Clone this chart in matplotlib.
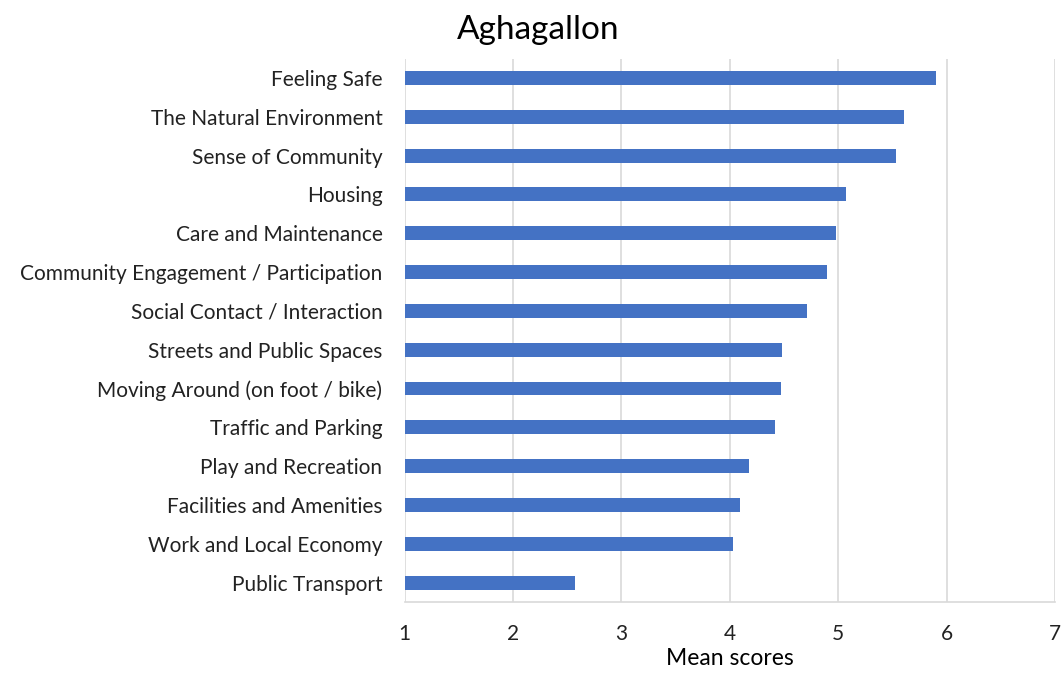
import numpy as np
import matplotlib.pyplot as plt

plt.rcParams['font.family'] = ['Lato', 'DejaVu Sans']

categories = [
    "Feeling Safe",
    "The Natural Environment",
    "Sense of Community",
    "Housing",
    "Care and Maintenance",
    "Community Engagement / Participation",
    "Social Contact / Interaction",
    "Streets and Public Spaces",
    "Moving Around (on foot / bike)",
    "Traffic and Parking",
    "Play and Recreation",
    "Facilities and Amenities",
    "Work and Local Economy",
    "Public Transport",
]
mean_scores = [5.90, 5.61, 5.53, 5.07, 4.98, 4.90, 4.71, 4.48, 4.47, 4.42, 4.18, 4.09, 4.03, 2.57]
x_ticks = [1, 2, 3, 4, 5, 6, 7]

fig = plt.figure(figsize=(10.62, 6.73), dpi=100)
ax = fig.add_axes([0.381, 0.1055, 0.6124, 0.8075])

y = np.arange(len(categories))[::-1]
base = 1
ax.barh(y, np.array(mean_scores) - base, left=base, height=0.36,
        color="#4472C4", zorder=3)

ax.set_xlim(1, 7)
ax.set_ylim(-0.5, len(categories) - 0.5)
ax.set_xticks(x_ticks)
ax.set_xticklabels([str(t) for t in x_ticks], fontsize=15)
ax.set_yticks(y)
ax.set_yticklabels(categories, fontsize=15)
ax.tick_params(axis="both", length=0, colors="#222222")
ax.tick_params(axis="x", pad=16)
ax.tick_params(axis="y", pad=16)

ax.grid(axis="x", color="#d9d9d9", linewidth=1.2, zorder=0)
for side in ["top", "left", "right"]:
    ax.spines[side].set_visible(False)
ax.spines["bottom"].set_color("#d9d9d9")
ax.spines["bottom"].set_linewidth(1.2)

ax.set_xlabel("Mean scores", fontsize=16.5, labelpad=3)
fig.text(0.507, 0.955, "Aghagallon", ha="center", va="center", fontsize=24)

fig.savefig("out.png", dpi=100)
